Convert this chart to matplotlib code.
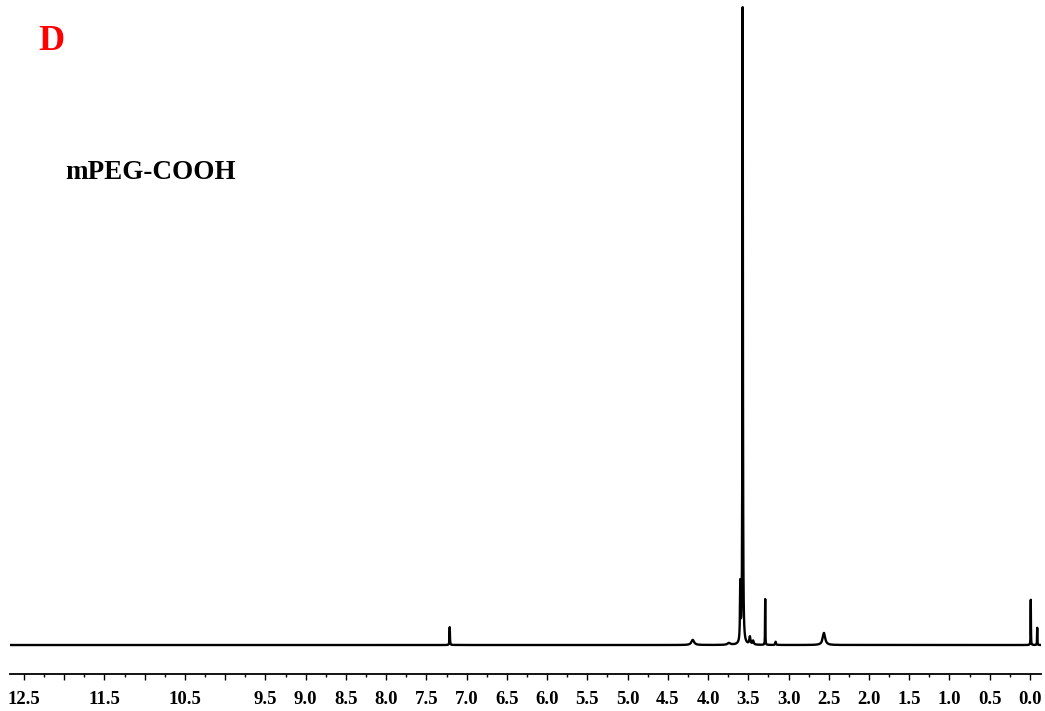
import numpy as np
import matplotlib.pyplot as plt
from matplotlib.ticker import FixedLocator, FixedFormatter, MultipleLocator

# 1H NMR peaks of mPEG-COOH (ppm, relative height, half width in ppm)
peak_ppm = [7.21, 4.19, 3.74, 3.60, 3.57, 3.48, 3.44, 3.29, 3.16, 2.56, -0.01, -0.09]
peak_height = [2.8, 0.8, 0.3, 9.0, 100.0, 1.2, 0.6, 7.2, 0.5, 1.9, 7.1, 2.7]
peak_width = [0.003, 0.02, 0.02, 0.004, 0.0035, 0.008, 0.008, 0.002, 0.005, 0.018, 0.002, 0.002]

tick_values = [12.5, 12.0, 11.5, 11.0, 10.5, 10.0, 9.5, 9.0, 8.5, 8.0, 7.5, 7.0, 6.5,
               6.0, 5.5, 5.0, 4.5, 4.0, 3.5, 3.0, 2.5, 2.0, 1.5, 1.0, 0.5, 0.0]
tick_labels = ['12.5', '', '11.5', '', '10.5', '', '9.5', '9.0', '8.5', '8.0', '7.5', '7.0', '6.5',
               '6.0', '5.5', '5.0', '4.5', '4.0', '3.5', '3.0', '2.5', '2.0', '1.5', '1.0', '0.5', '0.0']

# build spectrum as a sum of lorentzian lines
ppm = np.linspace(-0.2, 12.8, 80000)
spec = np.zeros_like(ppm)
for p, h, w in zip(peak_ppm, peak_height, peak_width):
    spec += h * w**2 / ((ppm - p)**2 + w**2)

plt.rcParams['font.family'] = ['Liberation Serif', 'DejaVu Serif']

fig = plt.figure(figsize=(10.45, 7.11), dpi=100)
W, H = 1045.0, 711.0
ax = fig.add_axes([10 / W, 1 - 674 / H, 1031 / W, 669 / H])

ax.plot(ppm, spec, color='black', lw=1.7)

# px 10 -> 12.674 ppm, px 1041 -> -0.137 ppm
ax.set_xlim(12.674, -0.137)
ax.set_ylim(-4.55, 100.5)

for s in ['top', 'left', 'right']:
    ax.spines[s].set_visible(False)
ax.spines['bottom'].set_linewidth(1.3)
ax.set_yticks([])

ax.xaxis.set_major_locator(FixedLocator(tick_values))
ax.xaxis.set_major_formatter(FixedFormatter(tick_labels))
ax.xaxis.set_minor_locator(MultipleLocator(0.25))
ax.tick_params(axis='x', which='major', direction='out', length=4, width=1.0,
               pad=8, labelsize=13.5)
ax.tick_params(axis='x', which='minor', direction='out', length=2.5, width=1.0)
for lab in ax.get_xticklabels():
    lab.set_fontweight('bold')

fig.text(38 / W, 1 - 50 / H, 'D', color='red', fontsize=26, fontweight='bold',
         ha='left', va='baseline')
fig.text(65 / W, 1 - 179 / H, 'mPEG-COOH', color='black', fontsize=19.5,
         fontweight='bold', ha='left', va='baseline')

fig.savefig('out.png', dpi=100)
